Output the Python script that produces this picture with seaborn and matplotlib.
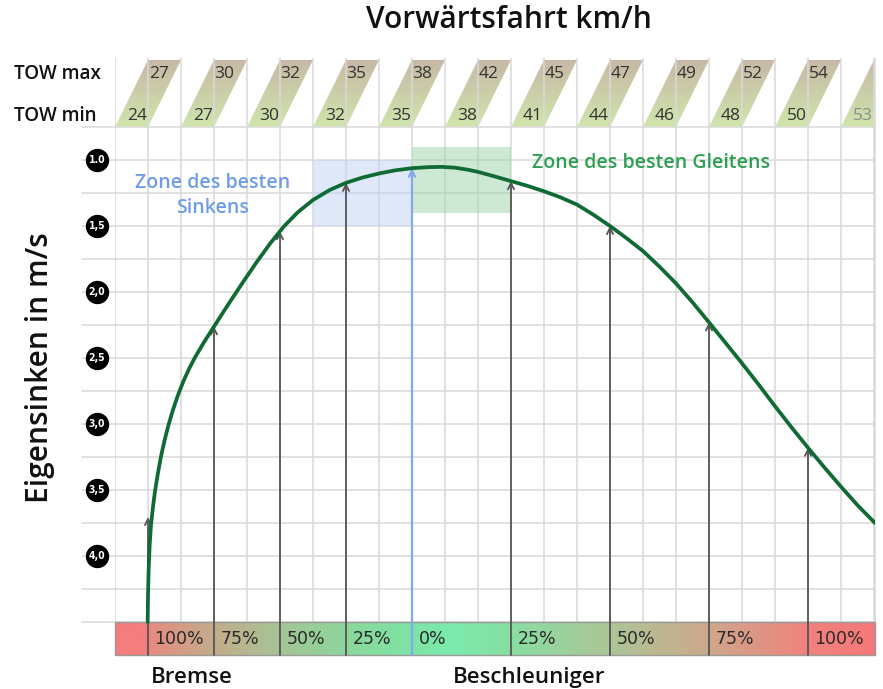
import numpy as np
import pandas as pd
import matplotlib
matplotlib.use("Agg")
import matplotlib.pyplot as plt
import seaborn as sns
from matplotlib.colors import LinearSegmentedColormap
from matplotlib.patches import Polygon, Rectangle

# ---------------- data ----------------
# speed axis in grid columns (each column = one grid cell), sink rate in m/s
curve_x = [0.99, 1.00, 1.02, 1.05, 1.09, 1.15, 1.21, 1.30, 1.40, 1.50, 1.615, 1.75,
           1.90, 2.07, 2.25, 2.42, 2.70, 3.0, 3.3, 3.6, 3.95, 4.3, 4.7, 5.12, 5.55,
           6.0, 6.5, 7.0, 7.5, 8.0, 8.5, 9.0, 9.5, 9.9, 10.3, 10.7, 11.0, 11.5,
           12.0, 12.5, 13.0, 13.5, 14.0, 14.5, 15.0, 15.5, 16.0, 16.5, 17.0, 17.5,
           18.0, 18.5, 19.0, 19.5, 20.0, 20.5, 21.0, 21.5, 22.0, 22.5, 23.03]
curve_y = [4.50, 4.30, 4.10, 3.92, 3.765, 3.63, 3.513, 3.373, 3.238, 3.126, 3.013, 2.898,
           2.787, 2.678, 2.579, 2.497, 2.379, 2.262, 2.145, 2.03, 1.899, 1.771, 1.633, 1.503, 1.393,
           1.303, 1.228, 1.173, 1.133, 1.102, 1.078, 1.062, 1.054, 1.052, 1.058, 1.074, 1.09, 1.124,
           1.16, 1.196, 1.237, 1.283, 1.338, 1.415, 1.50, 1.592, 1.69, 1.808, 1.935, 2.078,
           2.23, 2.385, 2.54, 2.70, 2.865, 3.025, 3.18, 3.33, 3.475, 3.615, 3.75]

arrow_x = [1, 3, 5, 7, 12, 15, 18, 21]
arrow_tip = [3.705, 2.26, 1.54, 1.173, 1.16, 1.50, 2.23, 3.18]
best_sink_x = 9
best_sink_tip = 1.062

bar_pos = [1, 3, 5, 7, 9, 12, 15, 18, 21]
bar_labels = ["100%", "75%", "50%", "25%", "0%", "25%", "50%", "75%", "100%"]

tow_max = ["27", "30", "32", "35", "38", "42", "45", "47", "49", "52", "54"]
tow_min = ["24", "27", "30", "32", "35", "38", "41", "44", "46", "48", "50", "53"]

ytick_vals = [1.0, 1.5, 2.0, 2.5, 3.0, 3.5, 4.0]
ytick_labels = ["1.0", "1,5", "2,0", "2,5", "3,0", "3,5", "4,0"]

# ---------------- style ----------------
sns.set_theme(style="white")
plt.rcParams["font.family"] = ["Open Sans", "DejaVu Sans"]

W, H = 883, 689
fig = plt.figure(figsize=(W / 100, H / 100), dpi=100)
x_max = 760 / 33
y_top = 1 - 102 / 132
y_bot = 1 + 497 / 132
ax = fig.add_axes([115 / W, 1 - 657 / H, 760 / W, 599 / H])
ax.axis("off")

grid_c = "#d9d9d9"
# vertical grid
for gx in range(0, 24):
    ax.plot([gx, gx], [y_top, 4.5], color=grid_c, lw=1.1, zorder=1, solid_capstyle="butt")
ax.plot([x_max, x_max], [y_top, 4.5], color=grid_c, lw=1.1, zorder=1, clip_on=False)
# horizontal grid
for gy in np.arange(0.75, 4.51, 0.25):
    ax.plot([-1, x_max], [gy, gy], color=grid_c, lw=1.1, zorder=1, clip_on=False)

# ---------------- top band (TOW) ----------------
band_cmap = LinearSegmentedColormap.from_list("band", ["#c7b9a6", "#cfe5ab"])
band_top = 1 - 100 / 132
grad_v = np.linspace(0, 1, 64).reshape(-1, 1)
for k in range(len(tow_min)):
    poly = Polygon([[2 * k, 0.75], [2 * k + 1, 0.75], [2 * k + 2, band_top], [2 * k + 1, band_top]],
                   closed=True, facecolor="none", edgecolor="none")
    ax.add_patch(poly)
    im = ax.imshow(grad_v, extent=[2 * k, 2 * k + 2, 0.75, band_top], cmap=band_cmap,
                   aspect="auto", zorder=0.5, interpolation="bilinear")
    im.set_clip_path(poly)
for k, lab in enumerate(tow_max):
    ax.text(2 * k + 1.02, 0.345, lab, ha="left", va="center", fontsize=12.5,
            color="#333333", zorder=3)
for k, lab in enumerate(tow_min):
    col = "#333333" if k < len(tow_min) - 1 else "#8a8a8a"
    ax.text(2 * k + 0.97, 0.67, lab, ha="right", va="center", fontsize=12.5,
            color=col, zorder=3)
ax.text(-3.05, 0.345, "TOW max", ha="left", va="center", fontsize=13.5,
        fontweight="semibold", color="#111111", clip_on=False)
ax.text(-3.05, 0.67, "TOW min", ha="left", va="center", fontsize=13.5,
        fontweight="semibold", color="#111111", clip_on=False)

# ---------------- zones ----------------
ax.add_patch(Rectangle((6, 1.0), 3, 0.5, facecolor="#bfd3f5", alpha=0.5,
                       edgecolor="none", zorder=1.5))
ax.add_patch(Rectangle((9, 1 - 13 / 132), 3, 66 / 132, facecolor="#9fd4a8", alpha=0.5,
                       edgecolor="none", zorder=1.5))
ax.text(2.97, 1.27, "Zone des besten\nSinkens", ha="center", va="center", fontsize=14,
        fontweight="semibold", color="#6f9ce8", linespacing=1.3, zorder=3)
ax.text(16.24, 1.023, "Zone des besten Gleitens", ha="center", va="center", fontsize=14,
        fontweight="semibold", color="#2e9f52", zorder=3)

# ---------------- bottom colour bar ----------------
stops_px = [115, 147, 150, 214, 280, 346, 412, 450, 511, 610, 709, 808, 875]
stops_rgb = [(245, 125, 125), (245, 125, 125), (228, 140, 128), (195, 172, 140),
             (165, 196, 148), (140, 215, 156), (125, 228, 166), (122, 235, 172),
             (136, 222, 163), (172, 198, 150), (205, 168, 140), (240, 130, 125),
             (245, 120, 120)]
bar_cmap = LinearSegmentedColormap.from_list(
    "bar", [((p - 115) / 760, tuple(c / 255 for c in rgb)) for p, rgb in zip(stops_px, stops_rgb)])
grad_h = np.linspace(0, 1, 512).reshape(1, -1)
ax.imshow(grad_h, extent=[0, x_max, 4.75, 4.5], cmap=bar_cmap, aspect="auto",
          zorder=0.5, interpolation="bilinear")
ax.add_patch(Rectangle((0, 4.5), x_max, 0.25, facecolor="none", edgecolor="#9a9a9a",
                       lw=1.0, zorder=2, clip_on=False))
for p, lab in zip(bar_pos, bar_labels):
    ax.text(p + 0.2, 4.628, lab, ha="left", va="center", fontsize=12.5, color="#2a2a2a",
            family=["DejaVu Sans"], zorder=4)

# ---------------- arrows ----------------
for ax_x, tip in zip(arrow_x, arrow_tip):
    ax.annotate("", xy=(ax_x, tip), xytext=(ax_x, 4.75),
                arrowprops=dict(arrowstyle="->", color="#555555", lw=1.3,
                                shrinkA=0, shrinkB=0, mutation_scale=11), zorder=3)
ax.annotate("", xy=(best_sink_x, best_sink_tip), xytext=(best_sink_x, 4.75),
            arrowprops=dict(arrowstyle="->", color="#82a9ef", lw=1.6,
                            shrinkA=0, shrinkB=0, mutation_scale=11), zorder=3)

# ---------------- polar curve ----------------
df = pd.DataFrame({"speed": curve_x, "sink": curve_y})
sns.lineplot(data=df, x="speed", y="sink", sort=False, estimator=None, color="#0f6a33",
             lw=2.7, ax=ax, zorder=5)
for line in ax.get_lines()[-1:]:
    line.set_solid_joinstyle("round")
ax.axis("off")

# ---------------- y ticks as black discs ----------------
ax.scatter([-0.545] * len(ytick_vals), ytick_vals, s=250, color="black", zorder=6,
           clip_on=False)
for v, lab in zip(ytick_vals, ytick_labels):
    ax.text(-0.545, v, lab, ha="center", va="center", fontsize=7.5, color="white",
            fontweight="bold", family="DejaVu Sans", fontstretch="condensed",
            zorder=7, clip_on=False)

# ---------------- titles ----------------
fig.text(509 / W, 1 - 20 / H, "Vorwärtsfahrt km/h", ha="center", va="center",
         fontsize=21.5, fontweight="semibold", color="#111111")
fig.text(40 / W, 1 - 368 / H, "Eigensinken in m/s", ha="center", va="center",
         rotation=90, fontsize=21.5, fontweight="semibold", color="#111111")
ax.text(2.33, 4.917, "Bremse", ha="center", va="center", fontsize=16,
        fontweight="semibold", color="#111111", clip_on=False)
ax.text(12.55, 4.917, "Beschleuniger", ha="center", va="center", fontsize=16,
        fontweight="semibold", color="#111111", clip_on=False)

ax.set_xlim(0, x_max)
ax.set_ylim(y_bot, y_top)
fig.savefig("out.png", dpi=100)
